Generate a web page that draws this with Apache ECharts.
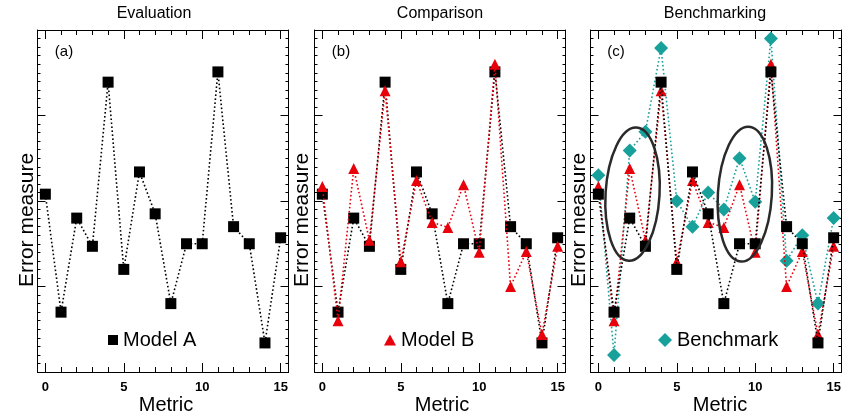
<!DOCTYPE html>
<html>
<head>
<meta charset="utf-8">
<script src="https://cdn.jsdelivr.net/npm/echarts@6/dist/echarts.min.js"></script>
<style>
html,body{margin:0;padding:0;background:#fff;}
#chart{width:846px;height:419px;}
</style>
</head>
<body>
<div id="chart"></div>
<script>
// ---- data ----
var metrics = [0,1,2,3,4,5,6,7,8,9,10,11,12,13,14,15];
var modelA = [2.08, 0.70, 1.80, 1.47, 3.39, 1.20, 2.34, 1.85, 0.80, 1.50, 1.50, 3.51, 1.70, 1.50, 0.34, 1.57];
var modelB = [2.17, 0.60, 2.38, 1.54, 3.29, 1.29, 2.24, 1.75, 1.69, 2.19, 1.40, 3.60, 1.00, 1.41, 0.44, 1.47];
var benchmark = [2.30, 0.20, 2.59, 2.81, 3.79, 2.00, 1.70, 2.10, 1.90, 2.50, 1.99, 3.90, 1.30, 1.60, 0.80, 1.80];
var xTickLabels = [0, 5, 10, 15];
var panelTitles = ['Evaluation', 'Comparison', 'Benchmarking'];
var panelLetters = ['(a)', '(b)', '(c)'];
var xName = 'Metric';
var yName = 'Error measure';
// highlighted regions in panel (c): [centre metric, centre value]
var ellipseCentres = [[2.18, 2.08], [9.34, 2.08]];
var ellipseRadii = [[1.72, 0.78], [1.72, 0.79]]; // in metric units / value units

// ---- layout ----
var FONT = 'Liberation Sans, Arial, Helvetica, sans-serif';
var grids = [
  {left: 37.5, top: 30, width: 251, height: 342},
  {left: 314.5, top: 30, width: 251, height: 342},
  {left: 590.5, top: 30, width: 251, height: 342}
];
var titleX = [154, 440, 715];
var yNameX = [27, 302.5, 579];
var xNameX = [166, 442, 720];
var letterX = [64, 341, 616];

function pairs(arr){ return metrics.map(function(m,i){ return [m, arr[i]]; }); }

var xAxes = [], yAxes = [];
grids.forEach(function(g, gi){
  ['bottom','top'].forEach(function(pos){
    xAxes.push({
      gridIndex: gi, type: 'value', position: pos, min: -0.5, max: 15.5,
      axisLine: {show: true, onZero: false, lineStyle: {color: '#000', width: 1}},
      axisTick: {show: true, inside: true, length: 9, customValues: xTickLabels, lineStyle: {color: '#000'}},
      axisLabel: {show: pos === 'bottom', customValues: xTickLabels, color: '#000', fontSize: 13, fontWeight: 'bold', fontFamily: FONT, margin: 9},
      splitLine: {show: false}
    });
    xAxes.push({
      gridIndex: gi, type: 'value', position: pos, min: -0.5, max: 15.5,
      axisLine: {show: false, onZero: false},
      axisTick: {show: true, inside: true, length: 5, customValues: metrics, lineStyle: {color: '#000'}},
      axisLabel: {show: false},
      splitLine: {show: false}
    });
  });
  ['left','right'].forEach(function(pos){
    yAxes.push({
      gridIndex: gi, type: 'value', position: pos, min: 0, max: 4, interval: 1,
      axisLine: {show: true, onZero: false, lineStyle: {color: '#000', width: 1}},
      axisTick: {show: true, inside: true, length: 8, lineStyle: {color: '#000'}},
      minorTick: {show: true, splitNumber: 10, length: 3, lineStyle: {color: '#000'}},
      axisLabel: {show: false},
      splitLine: {show: false}
    });
  });
});

function lineSeries(name, data, gi, symbol, size, color, z){
  return {
    name: name, type: 'line', data: pairs(data),
    xAxisIndex: gi*4, yAxisIndex: gi*2,
    symbol: symbol, symbolSize: size, z: z,
    itemStyle: {color: color, borderWidth: 0},
    lineStyle: {color: color, width: 1.6, type: [1.6, 2.4]},
    emphasis: {disabled: true},
    animation: false
  };
}

var BLACK = '#000000', RED = '#e8000b', TEAL = '#18a09b';
var series = [
  lineSeries('Model A', modelA, 0, 'rect', 11, BLACK, 3),
  lineSeries('Model A', modelA, 1, 'rect', 11, BLACK, 3),
  lineSeries('Model B', modelB, 1, 'triangle', 11, RED, 4),
  lineSeries('Benchmark', benchmark, 2, 'diamond', 14, TEAL, 2),
  lineSeries('Model B', modelB, 2, 'triangle', 11, RED, 3),
  lineSeries('Model A', modelA, 2, 'rect', 11, BLACK, 4)
];

var legendText = {fontSize: 20, fontFamily: FONT, color: '#000'};
var legends = [
  {left: 108, top: 330, padding: 0, itemWidth: 10, itemHeight: 10, data: [{name: 'Model A', icon: 'rect'}], textStyle: legendText, selectedMode: false},
  {left: 384, top: 330, padding: 0, itemWidth: 12, itemHeight: 11, data: [{name: 'Model B', icon: 'triangle'}], textStyle: legendText, selectedMode: false},
  {left: 658, top: 330, padding: 0, itemWidth: 14, itemHeight: 14, data: [{name: 'Benchmark', icon: 'diamond'}], textStyle: legendText, selectedMode: false}
];

var texts = [];
for (var i = 0; i < 3; i++) {
  texts.push({type: 'text', x: titleX[i], y: 14, style: {text: panelTitles[i], font: '16px ' + FONT, fill: '#000', textAlign: 'center', textVerticalAlign: 'middle'}});
  texts.push({type: 'text', x: yNameX[i], y: 220, rotation: Math.PI/2, style: {text: yName, font: '21px ' + FONT, fill: '#000', textAlign: 'center', textVerticalAlign: 'middle'}});
  texts.push({type: 'text', x: xNameX[i], y: 405, style: {text: xName, font: '20px ' + FONT, fill: '#000', textAlign: 'center', textVerticalAlign: 'middle'}});
  texts.push({type: 'text', x: letterX[i], y: 52, style: {text: panelLetters[i], font: '15px ' + FONT, fill: '#000', textAlign: 'center', textVerticalAlign: 'middle'}});
}

var chart = echarts.init(document.getElementById('chart'), null, {renderer: 'canvas'});
chart.setOption({
  animation: false,
  backgroundColor: '#fff',
  grid: grids,
  xAxis: xAxes,
  yAxis: yAxes,
  legend: legends,
  series: series,
  graphic: texts
});

// ellipses placed through the panel (c) scales
var ell = ellipseCentres.map(function(c, k){
  var p = chart.convertToPixel({xAxisIndex: 8, yAxisIndex: 4}, c);
  var p2 = chart.convertToPixel({xAxisIndex: 8, yAxisIndex: 4}, [c[0] + ellipseRadii[k][0], c[1] + ellipseRadii[k][1]]);
  return {
    type: 'ellipse', x: p[0], y: p[1], rotation: -0.06, z: 10,
    shape: {cx: 0, cy: 0, rx: Math.abs(p2[0]-p[0]), ry: Math.abs(p2[1]-p[1])},
    style: {fill: 'none', stroke: '#2a2a2a', lineWidth: 2.5}
  };
});
chart.setOption({graphic: texts.concat(ell)});
</script>
</body>
</html>
